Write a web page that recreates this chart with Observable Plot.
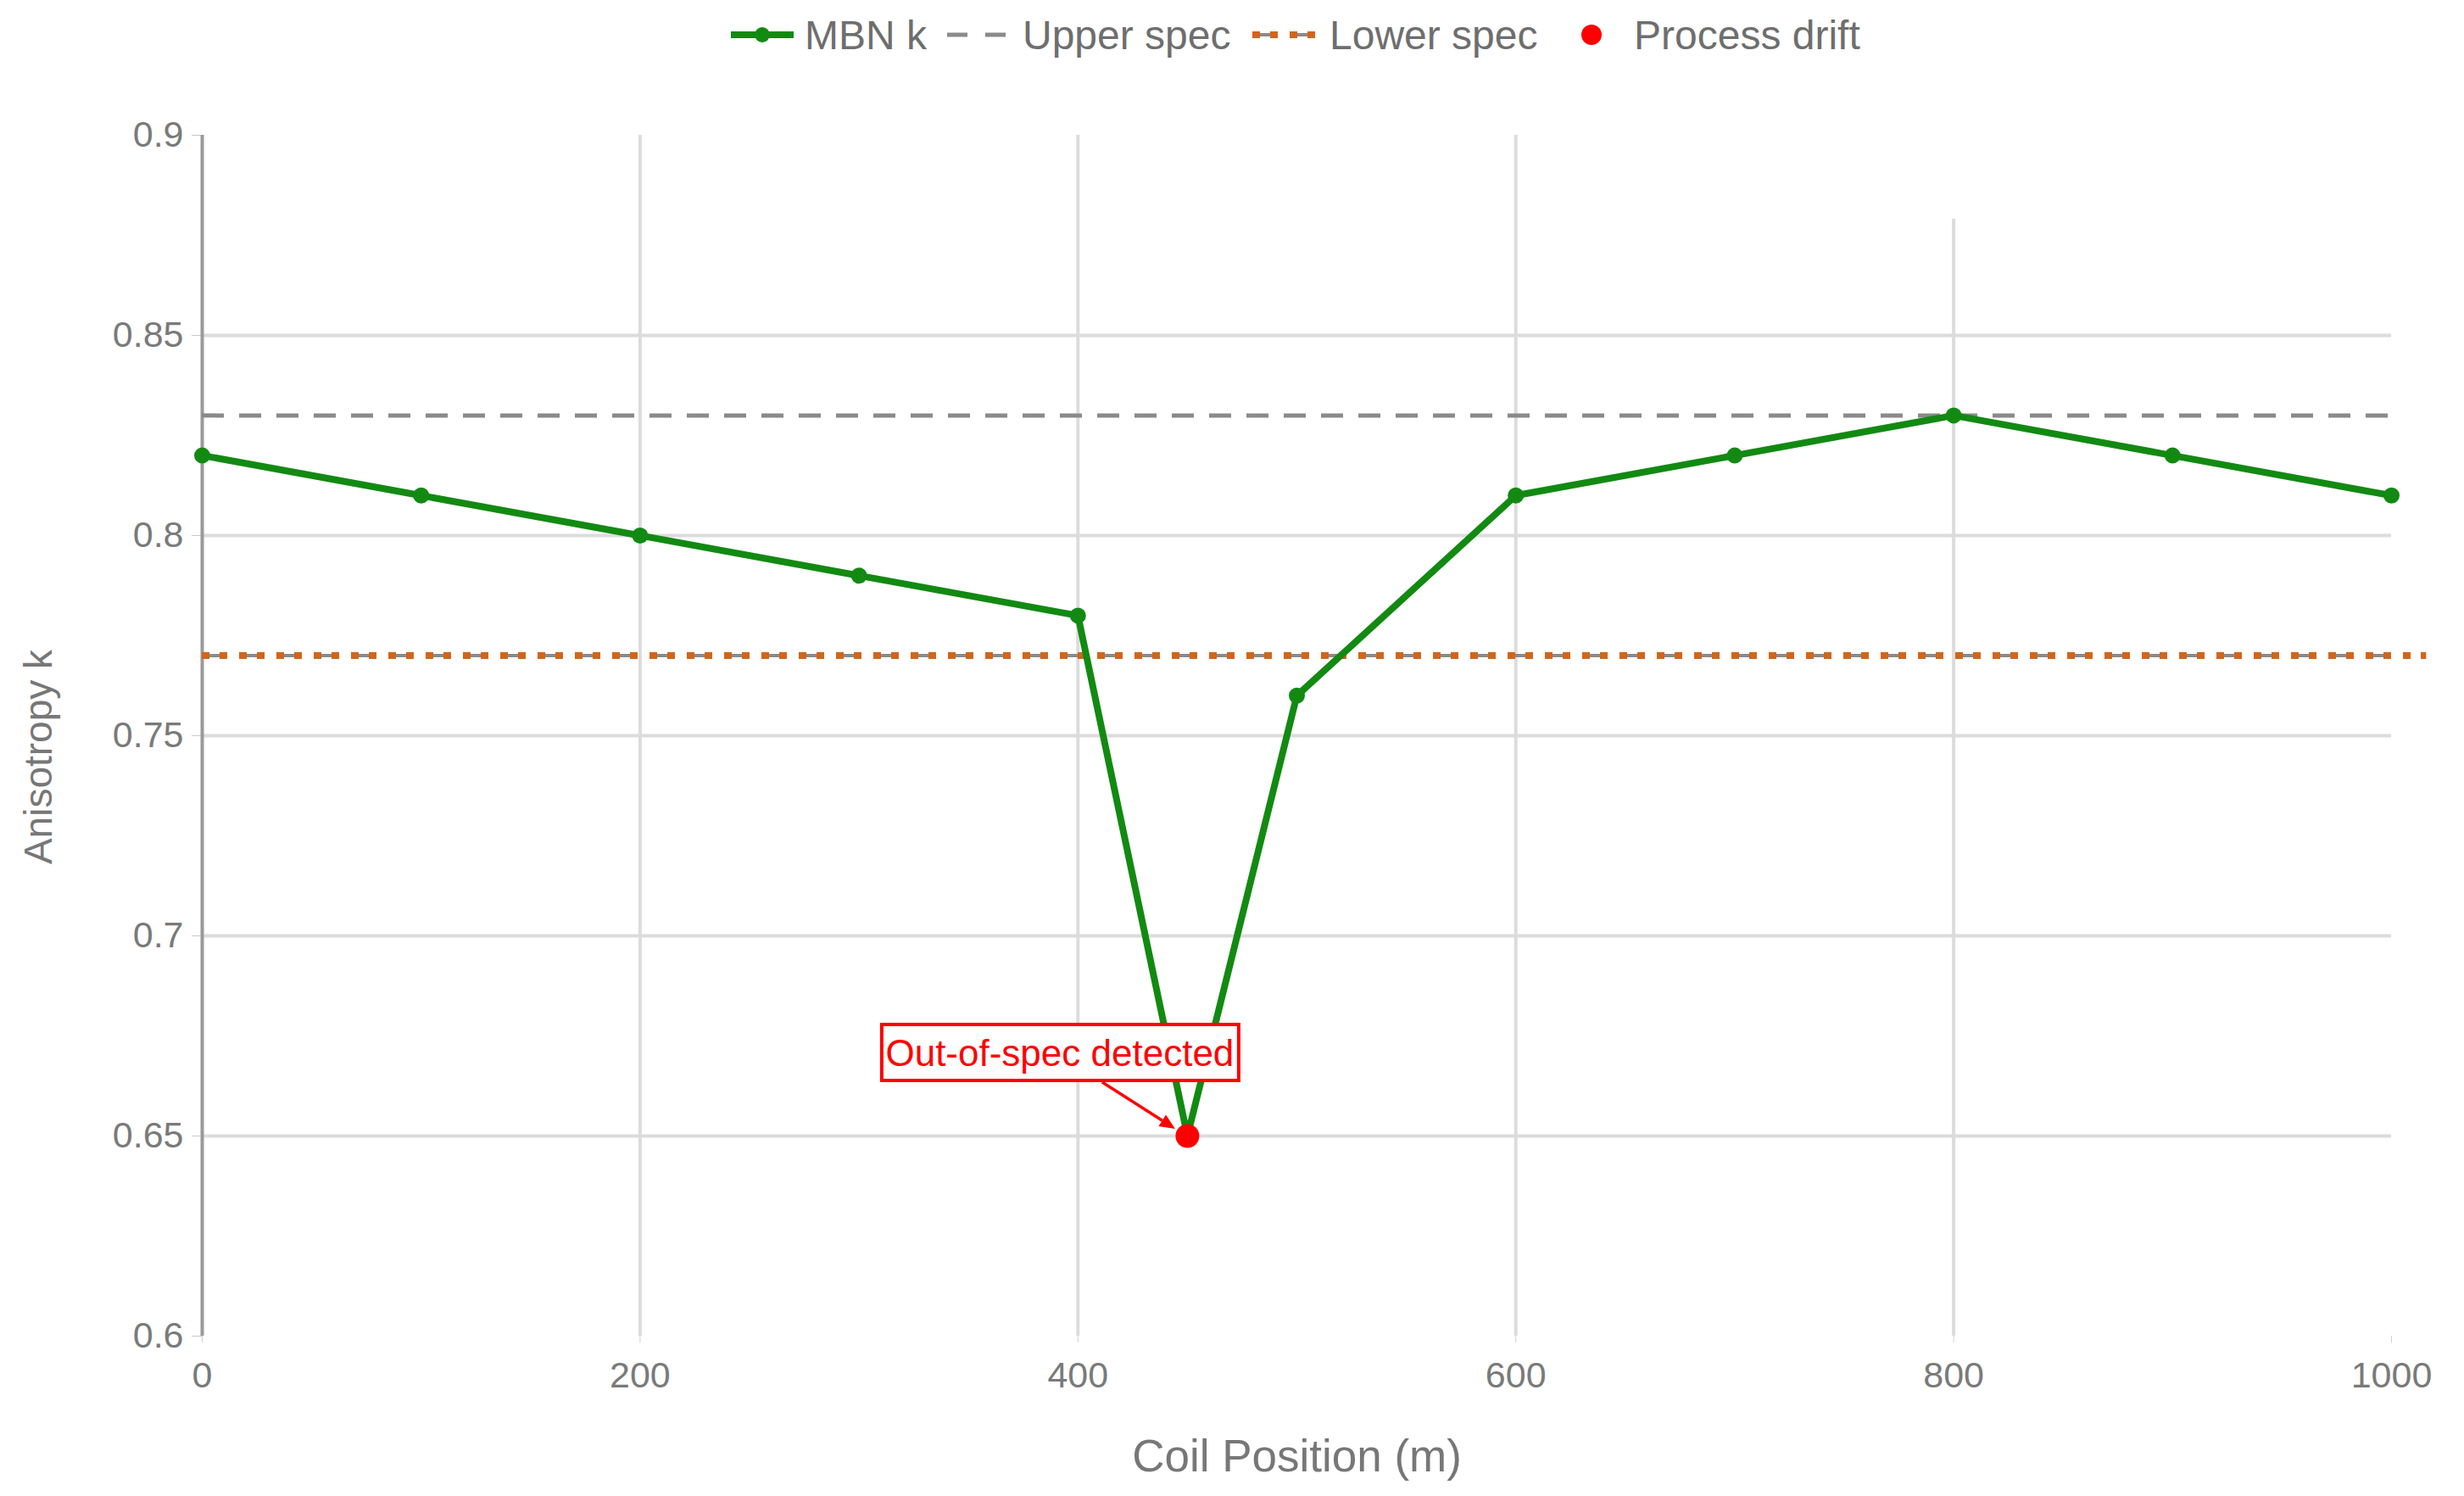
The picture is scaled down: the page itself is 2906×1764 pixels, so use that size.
<!DOCTYPE html>
<html>
<head>
<meta charset="utf-8">
<script src="https://cdn.jsdelivr.net/npm/d3@7"></script>
<script src="https://cdn.jsdelivr.net/npm/@observablehq/plot@0.6"></script>
<style>
  html, body { margin: 0; padding: 0; background: #fff; }
  body { width: 2906px; height: 1764px; overflow: hidden; font-family: "Liberation Sans", Arial, Helvetica, sans-serif; }
  #legend { position: relative; width: 2906px; height: 82px; }
  #legend .item { position: absolute; top: 0; height: 82px; display: flex; align-items: center; }
  #legend .lbl { font-size: 48px; color: #6e6e6e; white-space: nowrap; }
</style>
</head>
<body>
<div id="legend"></div>
<div id="chart"></div>
<script>
// ---- data ----
const positions = [0, 100, 200, 300, 400, 450, 500, 600, 700, 800, 900, 1000];
const mbnK      = [0.82, 0.81, 0.80, 0.79, 0.78, 0.65, 0.76, 0.81, 0.82, 0.83, 0.82, 0.81];
const upperSpec = [0.83];
const lowerSpec = [0.77];
const lowerSpecStart = [0];
const lowerSpecEnd = [1016];
const driftX = [450];
const driftY = [0.65];
const annotationText = ["Out-of-spec detected"];
const xTicks = [0, 200, 400, 600, 800, 1000];
const yTicks = [0.6, 0.65, 0.7, 0.75, 0.8, 0.85, 0.9];
const gridX = [200, 400, 600, 800];
const gridXTop = [0.9, 0.9, 0.9, 0.879];
const gridY = [0.65, 0.7, 0.75, 0.8, 0.85];
const seriesNames = ["MBN k", "Upper spec", "Lower spec", "Process drift"];
const xTitle = ["Coil Position (m)"];
const yTitle = ["Anisotropy k"];

const GREEN = "#128a12", GRAY = "#8a8a8a", ORANGE = "#d2651c", RED = "#ff0000";

const table = positions.map((x, i) => ({x, y: mbnK[i]}));
const drift = driftX.map((x, i) => ({x, y: driftY[i]}));
const vgrid = gridX.map((x, i) => ({x, top: gridXTop[i]}));

// ---- legend (HTML) ----
const legend = d3.select("#legend");
function addItem(left, svgW, draw, text, textLeft) {
  const it = legend.append("div").attr("class", "item").style("left", left + "px");
  const s = it.append("svg").attr("width", svgW).attr("height", 30);
  draw(s);
  legend.append("div").attr("class", "item").style("left", textLeft + "px")
    .append("span").attr("class", "lbl").text(text);
}
addItem(862, 74, s => {
  s.append("line").attr("x1", 0).attr("x2", 74).attr("y1", 15).attr("y2", 15).attr("stroke", GREEN).attr("stroke-width", 8);
  s.append("circle").attr("cx", 37).attr("cy", 15).attr("r", 9).attr("fill", GREEN);
}, seriesNames[0], 949);
addItem(1117, 69, s => {
  s.append("line").attr("x1", 0).attr("x2", 69).attr("y1", 15).attr("y2", 15).attr("stroke", GRAY).attr("stroke-width", 5).attr("stroke-dasharray", "24,21");
}, seriesNames[1], 1206);
addItem(1477, 76, s => {
  s.append("line").attr("x1", 0).attr("x2", 76).attr("y1", 15).attr("y2", 15).attr("stroke", GRAY).attr("stroke-width", 4).attr("stroke-dasharray", "30,14");
  s.append("line").attr("x1", 0).attr("x2", 76).attr("y1", 15).attr("y2", 15).attr("stroke", ORANGE).attr("stroke-width", 8).attr("stroke-dasharray", "9,12,9,14");
}, seriesNames[2], 1568);
addItem(1862, 30, s => {
  s.append("circle").attr("cx", 15).attr("cy", 15).attr("r", 12).attr("fill", RED);
}, seriesNames[3], 1927);

// ---- annotation render function ----
function annotationMark(index, scales) {
  const px = scales.x(driftX[0]), py = scales.y(driftY[0]);
  const g = d3.create("svg:g");
  g.append("rect")
    .attr("x", px - 360).attr("y", py - 131).attr("width", 421).attr("height", 66)
    .attr("fill", "#fff").attr("stroke", RED).attr("stroke-width", 4);
  g.append("text")
    .attr("x", px - 150).attr("y", py - 98)
    .attr("text-anchor", "middle").attr("dominant-baseline", "central")
    .attr("font-size", 44).attr("fill", RED)
    .attr("font-family", "Liberation Sans, Arial, sans-serif")
    .text(annotationText[0]);
  const x0 = px - 100, y0 = py - 63, x1 = px - 14, y1 = py - 8;
  const ang = Math.atan2(y1 - y0, x1 - x0), L = 18, W = 8;
  const bx = x1 - L * Math.cos(ang), by = y1 - L * Math.sin(ang);
  g.append("line").attr("x1", x0).attr("y1", y0).attr("x2", bx).attr("y2", by)
    .attr("stroke", RED).attr("stroke-width", 3.5);
  g.append("path")
    .attr("d", `M${x1},${y1}L${bx - W * Math.sin(ang)},${by + W * Math.cos(ang)}L${bx + W * Math.sin(ang)},${by - W * Math.cos(ang)}Z`)
    .attr("fill", RED);
  return g.node();
}

// ---- chart ----
const chart = Plot.plot({
  width: 2906,
  height: 1682,
  marginLeft: 238,
  marginRight: 86,
  marginTop: 77,
  marginBottom: 189,
  style: {fontFamily: "Liberation Sans, Arial, Helvetica, sans-serif", background: "#fff", color: "#7a7a7a", overflow: "visible"},
  x: {domain: [0, 1000], label: null},
  y: {domain: [0.6, 0.9], label: null},
  marks: [
    Plot.ruleY(gridY, {stroke: "#dcdcdc", strokeWidth: 4}),
    Plot.ruleX(vgrid, {x: "x", y1: 0.6, y2: "top", stroke: "#dcdcdc", strokeWidth: 4}),
    Plot.axisY({ticks: yTicks, tickSize: 12, tickPadding: 10, tickFormat: d => String(+d.toFixed(2)), stroke: "#c8c8c8", fill: "#7a7a7a", fontSize: 43, label: null}),
    Plot.axisX({ticks: xTicks, tickSize: 8, tickPadding: 22, tickFormat: d => String(d), stroke: "#d0d0d0", fill: "#7a7a7a", fontSize: 43, label: null}),
    Plot.ruleX([0], {stroke: "#9a9a9a", strokeWidth: 4}),
    Plot.ruleY(upperSpec, {stroke: GRAY, strokeWidth: 5, strokeDasharray: "26,18"}),
    Plot.ruleY(lowerSpec, {stroke: GRAY, strokeWidth: 4, strokeDasharray: "30,14"}),
    Plot.ruleY(lowerSpec, {x1: lowerSpecStart[0], x2: lowerSpecEnd[0], stroke: ORANGE, strokeWidth: 8, strokeDasharray: "9,12,9,14"}),
    Plot.line(table, {x: "x", y: "y", stroke: GREEN, strokeWidth: 8, strokeLinejoin: "round"}),
    Plot.dot(table, {x: "x", y: "y", r: 9.5, fill: GREEN}),
    Plot.dot(drift, {x: "x", y: "y", r: 14, fill: RED}),
    annotationMark,
    Plot.text(xTitle, {frameAnchor: "bottom", dy: 143, text: d => d, fontSize: 53, fill: "#777", lineAnchor: "middle", textAnchor: "middle"}),
    Plot.text(yTitle, {frameAnchor: "left", dx: -192, dy: 25, rotate: -90, text: d => d, fontSize: 46, fill: "#777", lineAnchor: "middle", textAnchor: "middle"})
  ]
});
document.getElementById("chart").appendChild(chart);
</script>
</body>
</html>
